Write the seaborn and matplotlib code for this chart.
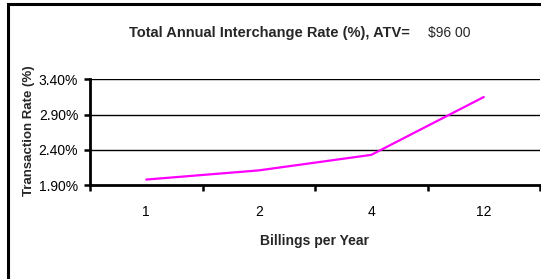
import matplotlib
matplotlib.use("Agg")
import matplotlib.pyplot as plt
import seaborn as sns
import pandas as pd
from matplotlib.patches import Rectangle
from matplotlib.ticker import FuncFormatter, FixedLocator

categories = ["1", "2", "4", "12"]
rates = [1.98, 2.11, 2.33, 3.15]
yticks = [1.90, 2.40, 2.90, 3.40]
title_bold = "Total Annual Interchange Rate (%), ATV="
title_value = "$96 00"
xlabel = "Billings per Year"
ylabel = "Transaction Rate (%)"

sns.set_theme(style="white")
plt.rcParams["font.family"] = ["Liberation Sans", "DejaVu Sans"]

df = pd.DataFrame({"billings": categories, "rate": rates})

fig = plt.figure(figsize=(5.41, 2.79), dpi=100)
fig.patch.set_facecolor("white")
W, H = 541, 279
ax = fig.add_axes([90 / W, 1 - 185.2 / H, 450 / W, (185.2 - 79.4) / H])

sns.lineplot(data=df, x="billings", y="rate", ax=ax, color="#FF00FF",
             linewidth=1.6, sort=False)

ax.set_xlim(-0.5, len(categories) - 0.5)
ax.set_ylim(yticks[0], yticks[-1])
ax.set_yticks(yticks)
ax.yaxis.set_major_formatter(FuncFormatter(lambda v, p: f"{v:.2f}%"))
for y in yticks[1:]:
    ax.axhline(y, color="black", linewidth=1.0, zorder=0)

ax.set_xticks(range(len(categories)))
ax.set_xticklabels(categories)
ax.xaxis.set_minor_locator(FixedLocator([i - 0.5 for i in range(len(categories) + 1)]))
ax.tick_params(axis="x", which="major", length=0, pad=14, labelsize=10, colors="black")
ax.tick_params(axis="x", which="minor", length=4, width=1.8, direction="out", color="black", bottom=True)
ax.tick_params(axis="y", which="major", length=4, width=1.8, direction="out", pad=4.5, labelsize=10,
               colors="black", left=True)

for s in ["top", "right"]:
    ax.spines[s].set_visible(False)
for s in ["left", "bottom"]:
    ax.spines[s].set_color("black")
    ax.spines[s].set_linewidth(2.0)
ax.set_xlabel("")
ax.set_ylabel("")
ax.grid(False)

fig.text(129 / W, 1 - 33 / H, title_bold, fontsize=10.5, fontweight="bold", ha="left", va="center")
fig.text(428 / W, 1 - 33 / H, title_value, fontsize=10, ha="left", va="center")
fig.text(314 / W, 1 - 241 / H, xlabel, fontsize=10, fontweight="bold", ha="center", va="center")
fig.text(29 / W, 1 - 131 / H, ylabel, fontsize=9.5, fontweight="bold", ha="center", va="center",
         rotation=90)

fig.patches.append(Rectangle((7.8 / W, -0.2), 1.5, 1 - 4 / H + 0.2, transform=fig.transFigure,
                             fill=False, edgecolor="black", linewidth=2.2, clip_on=False))

fig.savefig("out.png", dpi=100)
